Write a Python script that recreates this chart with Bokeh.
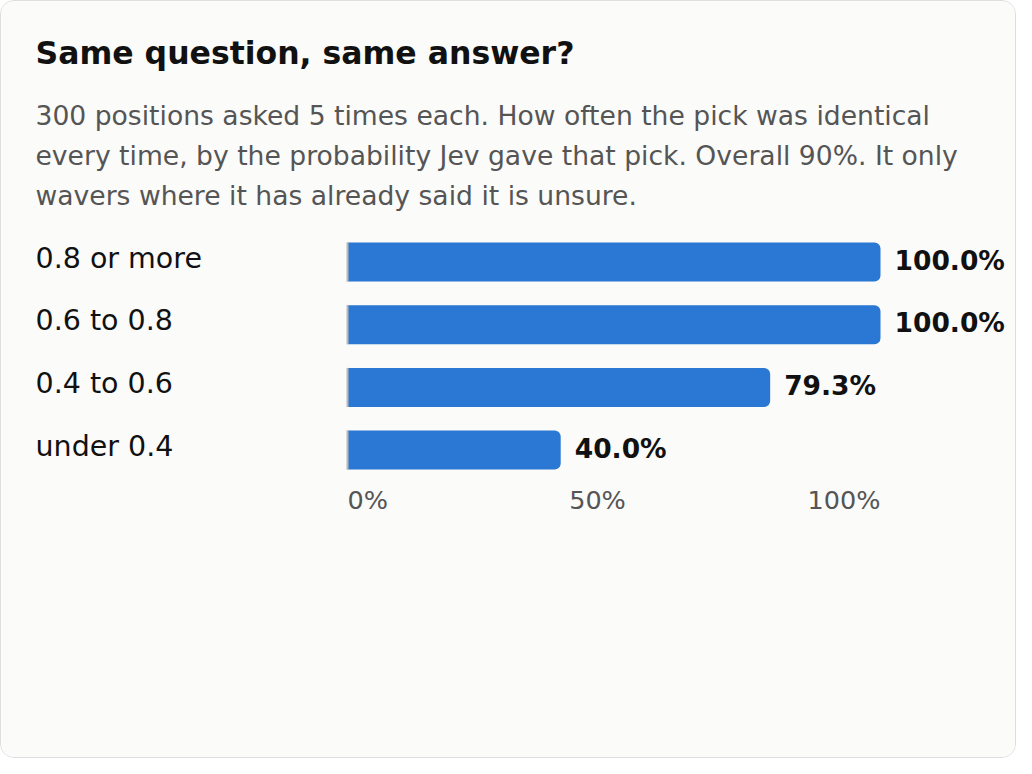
from bokeh.plotting import figure
from bokeh.models import Range1d, Label, ColumnDataSource
from bokeh.core.properties import value
from bokeh.embed import file_html
from bokeh.resources import INLINE

# data
categories = ["0.8 or more", "0.6 to 0.8", "0.4 to 0.6", "under 0.4"]
identical_pct = [100.0, 100.0, 79.3, 40.0]
tick_values = [0, 50, 100]
tick_labels = ["0%", "50%", "100%"]

title = "Same question, same answer?"
subtitle = [
    "300 positions asked 5 times each. How often the pick was identical",
    "every time, by the probability Jev gave that pick. Overall 90%. It only",
    "wavers where it has already said it is unsure.",
]

# layout (pixels inside the figure)
W, H = 1016, 758
bar_x0, bar_x1 = 346, 879      # where 0% and 100% sit
row0, row_step = 260.5, 62.7   # centre of first row, row spacing
bar_px = 39
left_px = 34

px_per_unit = (bar_x1 - bar_x0) / 100
x_range = Range1d(-bar_x0 / px_per_unit, (W - bar_x0) / px_per_unit)
y_range = Range1d((H - row0) / row_step, -row0 / row_step)

BG = "#fbfbf9"
BLUE = "#2a78d4"
FONT = "DejaVu Sans"

p = figure(width=W, height=H, x_range=x_range, y_range=y_range,
           x_axis_location=None, y_axis_location=None,
           output_backend="svg", toolbar_location=None, min_border=0)
p.grid.visible = False
p.outline_line_color = None
p.background_fill_color = BG
p.border_fill_color = BG
p.styles = {"border": "1px solid #dedede", "border-radius": "14px", "overflow": "hidden"}

ys = list(range(len(categories)))
h = bar_px / row_step

src = ColumnDataSource(dict(
    y=ys, cat=categories, v=identical_pct,
    lab=[f"{v:.1f}%" for v in identical_pct],
    lx=[(left_px - bar_x0) / px_per_unit] * len(ys),
    y0=[y - h / 2 for y in ys], y1=[y + h / 2 for y in ys],
))

p.hbar(y="y", left=0, right="v", height=h, source=src, fill_color=BLUE,
       line_color=None, border_radius=(0, 6, 6, 0))
p.segment(x0=0, x1=0, y0="y0", y1="y1", source=src, line_color="#b9b9b9", line_width=2)

p.text(x="v", y="y", text="lab", source=src, x_offset=14, y_offset=-2, text_baseline="middle",
       text_font=value(FONT), text_font_size="26.5px", text_font_style="bold",
       text_color="#111111")
p.text(x="lx", y="y", text="cat", source=src, y_offset=-4, text_baseline="middle",
       text_font=value(FONT), text_font_size="28.5px", text_color="#111111")

tsrc = ColumnDataSource(dict(
    x=tick_values, y=[ys[-1]] * len(tick_values), t=tick_labels,
    al=["left", "center", "right"], xo=[0, -16.5, 0],
))
p.text(x="x", y="y", text="t", source=tsrc, text_align="al", x_offset="xo", y_offset=50,
       text_baseline="middle", text_font=value(FONT), text_font_size="25.5px",
       text_color="#555555")

p.add_layout(Label(x=left_px, y=H - 51.5, x_units="screen", y_units="screen", text=title,
                   text_font=FONT, text_font_size="31.5px", text_font_style="bold",
                   text_color="#111111", text_baseline="alphabetic"))
for i, line in enumerate(subtitle):
    p.add_layout(Label(x=left_px, y=H - (113.8 + 40.2 * i), x_units="screen", y_units="screen",
                       text=line, text_font=FONT, text_font_size="26.6px",
                       text_color="#555555", text_baseline="alphabetic"))

open("out.html", "w").write(file_html(p, INLINE))
